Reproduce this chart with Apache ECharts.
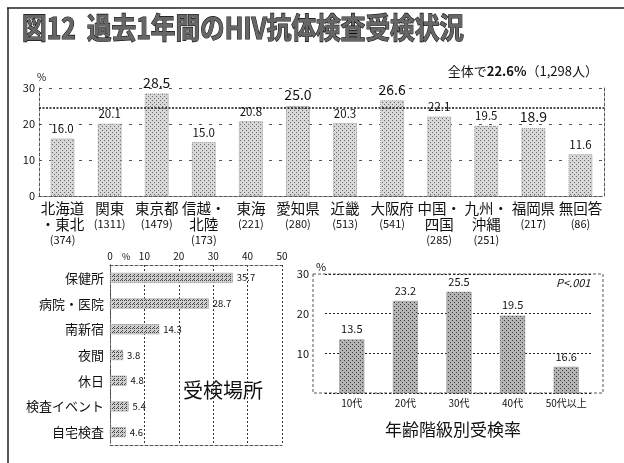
<!DOCTYPE html>
<html>
<head>
<meta charset="utf-8">
<script src="https://cdn.jsdelivr.net/npm/echarts@6/dist/echarts.min.js"></script>
<style>
  html, body { margin: 0; padding: 0; background: #fff; }
  #chart { width: 624px; height: 463px; }
</style>
</head>
<body>
<div id="chart"></div>
<script>
// 地域別受検率
const regionNames = ['北海道\n・東北', '関東', '東京都', '信越・\n北陸', '東海', '愛知県', '近畿', '大阪府', '中国・\n四国', '九州・\n沖縄', '福岡県', '無回答'];
const regionCounts = ['374', '1311', '1479', '173', '221', '280', '513', '541', '285', '251', '217', '86'];
const regionRates = [16.0, 20.1, 28.5, 15.0, 20.8, 25.0, 20.3, 26.6, 22.1, 19.5, 18.9, 11.6];
const regionTicks = [0, 10, 20, 30];
const avgLine = 24.6; // 全体線（図中の位置）

// 受検場所
const placeNames = ['保健所', '病院・医院', '南新宿', '夜間', '休日', '検査イベント', '自宅検査'];
const placeRates = [35.7, 28.7, 14.3, 3.8, 4.8, 5.4, 4.6];
const placeTicks = [0, 10, 20, 30, 40, 50];

// 年齢階級別
const ageNames = ['10代', '20代', '30代', '40代', '50代以上'];
const ageRates = [13.5, 23.2, 25.5, 19.5, 6.6];
const ageLabels = ['13.5', '23.2', '25.5', '19.5', '16.6'];
const ageTicks = [0, 10, 20, 30];

const FONT = '"Noto Sans CJK JP", "Noto Sans", sans-serif';

/*網点パターンを作る*/
function pattern(bg, dot, step, diag) {
  const c = document.createElement('canvas');
  c.width = c.height = step * 2;
  const g = c.getContext('2d');
  g.fillStyle = bg;
  g.fillRect(0, 0, c.width, c.height);
  g.fillStyle = dot;
  g.fillRect(0, 0, 1, 1);
  g.fillRect(step, step, 1, 1);
  if (diag) {
    g.fillRect(step, 0, 1, 1);
    g.fillRect(1, step + 1, 1, 1);
  }
  return { image: c, repeat: 'repeat' };
}

const bigLabel = [2, 5, 7, 10];
const dashBox = { show: true, lineStyle: { color: '#555', type: [3, 2], width: 1 } };

let chart = echarts.init(document.getElementById('chart'));
chart.setOption({
  animation: false,
  textStyle: { fontFamily: FONT },
  grid: [
    { left: 39, right: 20, top: 88, height: 108 },
    { left: 110, right: 342, top: 265, bottom: 18 },
    { left: 325, right: 31, top: 274, bottom: 70 }
  ],
  xAxis: [
    {
      gridIndex: 0, type: 'category', data: regionNames,
      axisLine: dashBox, axisTick: { show: false },
      axisLabel: {
        interval: 0, margin: 4, color: '#111',
        formatter: function (value, index) {
          let lines = value.split('\n').map(s => '{n|' + s + '}');
          lines.push('{c|(' + regionCounts[index] + ')}');
          return lines.join('\n');
        },
        rich: {
          n: { fontSize: 14.5, lineHeight: 16, fontFamily: FONT, color: '#111' },
          c: { fontSize: 11, lineHeight: 16, fontFamily: FONT, color: '#111' }
        }
      }
    },
    {
      gridIndex: 0, type: 'category', data: regionNames, position: 'top',
      axisLine: dashBox, axisTick: { show: false }, axisLabel: { show: false }
    },
    {
      gridIndex: 1, type: 'value', position: 'top', min: 0, max: 50, interval: 10,
      axisLine: dashBox, axisTick: { show: false },
      axisLabel: { fontSize: 10, color: '#111', margin: 4 },
      splitLine: { show: true, lineStyle: { color: '#333', type: [2, 2] } }
    },
    {
      gridIndex: 1, type: 'value', position: 'bottom', min: 0, max: 50, interval: 10,
      axisLine: dashBox, axisTick: { show: false }, axisLabel: { show: false }, splitLine: { show: false }
    },
    {
      gridIndex: 2, type: 'category', data: ageNames,
      axisLine: { show: false }, axisTick: { show: false },
      axisLabel: { fontSize: 10, color: '#111', margin: 5 }
    }
  ],
  yAxis: [
    {
      gridIndex: 0, type: 'value', min: 0, max: 30, interval: 10,
      name: '%', nameGap: 3, nameTextStyle: { fontSize: 10, color: '#111', align: 'left', padding: [0, 0, 0, -2] },
      axisLine: dashBox, axisTick: { show: false },
      axisLabel: { fontSize: 11, color: '#111', margin: 4 },
      splitLine: { show: true, lineStyle: { color: '#555', type: [3, 7] } }
    },
    {
      gridIndex: 0, type: 'value', min: 0, max: 30, interval: 10, position: 'right',
      axisLine: dashBox, axisTick: { show: false }, axisLabel: { show: false }, splitLine: { show: false }
    },
    {
      gridIndex: 1, type: 'category', data: placeNames, inverse: true,
      axisLine: dashBox, axisTick: { show: false },
      axisLabel: { fontSize: 13, color: '#111', margin: 6 }
    },
    {
      gridIndex: 1, type: 'category', data: placeNames, inverse: true, position: 'right',
      axisLine: dashBox, axisTick: { show: false }, axisLabel: { show: false }
    },
    {
      gridIndex: 2, type: 'value', min: 0, max: 30, interval: 10,
      name: '%', nameGap: 2, nameTextStyle: { fontSize: 11, color: '#111', align: 'center', padding: [0, 0, 0, -8] },
      axisLine: { show: false }, axisTick: { show: false },
      axisLabel: {
        fontSize: 11, color: '#111', margin: 16,
        formatter: v => (v === 0 ? '' : v)
      },
      splitLine: { show: true, lineStyle: { color: '#222', type: [2, 2] } }
    }
  ],
  series: [
    {
      type: 'bar', xAxisIndex: 0, yAxisIndex: 0, data: regionRates.map((v, i) => ({
        value: v,
        label: { fontSize: bigLabel.indexOf(i) >= 0 ? 14 : 11.5 }
      })),
      barWidth: 24,
      itemStyle: { color: pattern('#d8d8d8', '#666', 2), borderColor: '#999', borderWidth: 1, borderType: 'dotted' },
      label: { show: true, position: 'top', distance: 4, color: '#111', formatter: p => p.value.toFixed(1) },
      markLine: {
        silent: true, symbol: 'none', label: { show: false },
        lineStyle: { color: '#111', type: [2, 1.5], width: 1.5 },
        data: [{ yAxis: avgLine }]
      }
    },
    {
      type: 'bar', xAxisIndex: 2, yAxisIndex: 2, data: placeRates,
      barWidth: 10,
      itemStyle: { color: pattern('#d0d0d0', '#444', 2, true), borderColor: '#999', borderWidth: 0.5 },
      label: { show: true, position: 'right', distance: 4, fontSize: 9.5, color: '#111', formatter: p => p.value.toFixed(1) }
    },
    {
      type: 'bar', xAxisIndex: 4, yAxisIndex: 4, data: ageRates,
      barWidth: 25,
      itemStyle: { color: pattern('#b4b4b4', '#3a3a3a', 2), borderColor: '#888', borderWidth: 0.5 },
      label: { show: true, position: 'top', distance: 5, fontSize: 11, color: '#111', formatter: p => ageLabels[p.dataIndex] }
    }
  ],
  graphic: [
    { type: 'line', shape: { x1: 7, y1: 8, x2: 624, y2: 8 }, style: { stroke: '#222', lineWidth: 1.5 } },
    { type: 'line', shape: { x1: 8, y1: 8, x2: 8, y2: 463 }, style: { stroke: '#222', lineWidth: 1.5 } },
    {
      type: 'text', x: 22, y: 13, scaleX: 0.85,
      style: {
        text: '図12  過去1年間のHIV抗体検査受検状況', font: 'bold 29px ' + FONT,
        fill: '#666', stroke: '#111', lineWidth: 1.2
      }
    },
    {
      type: 'text', right: 26, top: 65,
      style: {
        text: '{a|全体で}{b|22.6%}{a|（1,298人）}',
        rich: {
          a: { fontSize: 13, fontFamily: FONT, fill: '#111' },
          b: { fontSize: 13, fontWeight: 'bold', fontFamily: FONT, fill: '#111' }
        }
      }
    },
    { type: 'text', left: 122, top: 252, style: { text: '%', font: '9px ' + FONT, fill: '#111' } },
    { type: 'text', left: 183, top: 380, style: { text: '受検場所', font: '20px ' + FONT, fill: '#111' } },
    {
      type: 'rect', shape: { x: 313, y: 274, width: 290, height: 119 },
      style: { fill: 'none', stroke: '#555', lineWidth: 1, lineDash: [3, 2] }
    },
    { type: 'text', left: 556, top: 277, style: { text: 'P<.001', font: 'italic 11px ' + FONT, fill: '#111' } },
    { type: 'text', left: 385, top: 421, style: { text: '年齢階級別受検率', font: '17px ' + FONT, fill: '#111' } }
  ]
});
</script>
</body>
</html>
